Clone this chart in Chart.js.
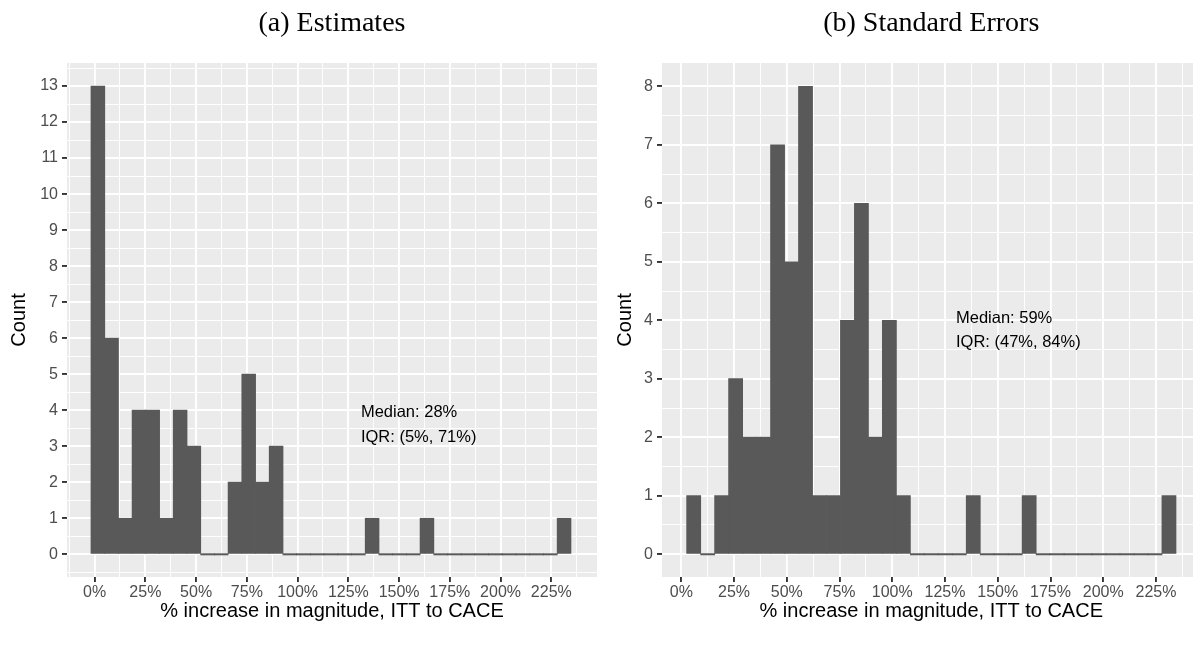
<!DOCTYPE html>
<html>
<head>
<meta charset="utf-8">
<script src="https://cdn.jsdelivr.net/npm/chart.js@4.4.1/dist/chart.umd.min.js"></script>
<style>
  html, body { margin: 0; padding: 0; background: #fff; overflow: hidden; }
  #wrap { position: relative; width: 1193px; height: 652px; overflow: hidden; }
  canvas { position: absolute; top: 0; }
  #estChart { left: 0; }
  #seChart { left: 600px; }
</style>
</head>
<body>
<div id="wrap">
  <canvas id="estChart" width="600" height="652"></canvas>
  <canvas id="seChart" width="601" height="652"></canvas>
</div>
<script>
// histogram bins (centre, % increase) and counts
const estBins = [1.61, 8.36, 15.12, 21.87, 28.63, 35.38, 42.14, 48.89, 55.65, 62.40, 69.16, 75.91, 82.67, 89.42, 96.18, 102.93, 109.69, 116.44, 123.20, 129.95, 136.71, 143.46, 150.22, 156.97, 163.73, 170.48, 177.24, 183.99, 190.75, 197.50, 204.26, 211.01, 217.77, 224.52, 231.28];
const estCounts = [13, 6, 1, 4, 4, 1, 4, 3, 0, 0, 2, 5, 2, 3, 0, 0, 0, 0, 0, 0, 1, 0, 0, 0, 1, 0, 0, 0, 0, 0, 0, 0, 0, 0, 1];

const seBins = [5.87, 12.50, 19.12, 25.75, 32.37, 39.00, 45.63, 52.25, 58.88, 65.50, 72.13, 78.76, 85.38, 92.01, 98.63, 105.26, 111.89, 118.51, 125.14, 131.76, 138.39, 145.02, 151.64, 158.27, 164.89, 171.52, 178.15, 184.77, 191.40, 198.02, 204.65, 211.28, 217.90, 224.53, 231.15];
const seCounts = [1, 0, 1, 3, 2, 2, 7, 5, 8, 1, 1, 4, 6, 2, 4, 1, 0, 0, 0, 0, 1, 0, 0, 0, 1, 0, 0, 0, 0, 0, 0, 0, 0, 0, 1];

// tick labels
const xTicks = [0, 25, 50, 75, 100, 125, 150, 175, 200, 225];
const estYTicks = [0, 1, 2, 3, 4, 5, 6, 7, 8, 9, 10, 11, 12, 13];
const seYTicks = [0, 1, 2, 3, 4, 5, 6, 7, 8];

const estNote = ["Median: 28%", "IQR: (5%, 71%)"];
const seNote = ["Median: 59%", "IQR: (47%, 84%)"];

const SANS = "'Liberation Sans', Arial, Helvetica, sans-serif";
const SERIF = "'Liberation Serif', 'Times New Roman', serif";

// major + minor (half way) ticks, like ggplot
function withMinor(major, min, max) {
  const step = major[1] - major[0];
  const out = [];
  major.forEach((v) => out.push(v - step / 2, v));
  out.push(major[major.length - 1] + step / 2);
  return out.filter((v) => v >= min && v <= max).map((v) => ({ value: v }));
}

const panelBg = {
  id: "panelBg",
  beforeDraw(chart) {
    const { ctx, chartArea: { left, top, width, height } } = chart;
    ctx.save();
    ctx.fillStyle = "#EBEBEB";
    ctx.fillRect(left, top, width, height);
    ctx.restore();
  },
};

const noteText = {
  id: "noteText",
  afterDatasetsDraw(chart, args, opts) {
    const { ctx, scales: { x, y } } = chart;
    ctx.save();
    ctx.font = "16.5px " + SANS;
    ctx.fillStyle = "#000";
    ctx.textAlign = "left";
    ctx.textBaseline = "alphabetic";
    const px = x.getPixelForValue(opts.x);
    const py = y.getPixelForValue(opts.y);
    opts.lines.forEach((t, i) => ctx.fillText(t, px, py + i * opts.gap));
    ctx.restore();
  },
};

function makeChart(id, cfg) {
  const xMajor = new Set(xTicks);
  const yMajor = new Set(cfg.yTicks);
  return new Chart(document.getElementById(id), {
    type: "bar",
    data: {
      datasets: [
        {
          data: cfg.bins.map((b, i) => ({ x: b, y: cfg.counts[i] })),
          backgroundColor: "#595959",
          borderWidth: 0,
          inflateAmount: 0.4,
          barPercentage: 1,
          categoryPercentage: 1,
          minBarLength: 1.2,
        },
      ],
    },
    options: {
      responsive: false,
      animation: false,
      devicePixelRatio: 1,
      layout: { padding: { left: 0, right: cfg.padRight, top: 0, bottom: 0 } },
      scales: {
        x: {
          type: "linear",
          min: cfg.xMin,
          max: cfg.xMax,
          offset: false,
          afterBuildTicks: (axis) => { axis.ticks = withMinor(xTicks, cfg.xMin, cfg.xMax); },
          afterFit: (axis) => { axis.height = 75; },
          grid: {
            offset: false,
            color: "#FFFFFF",
            lineWidth: (c) => (c.tick && xMajor.has(c.tick.value) ? 1.9 : 0.95),
            tickLength: 5,
            tickWidth: 1.9,
            tickColor: (c) => (c.tick && xMajor.has(c.tick.value) ? "#333333" : "rgba(0,0,0,0)"),
          },
          border: { display: false },
          ticks: {
            autoSkip: false,
            maxRotation: 0,
            minRotation: 0,
            padding: 1,
            color: "#4D4D4D",
            font: { family: SANS, size: 16 },
            callback: (v) => (xMajor.has(v) ? v + "%" : ""),
          },
          title: {
            display: true,
            text: "% increase in magnitude, ITT to CACE",
            color: "#000",
            font: { family: SANS, size: 20 },
            padding: { top: 0, bottom: 29 },
          },
        },
        y: {
          type: "linear",
          min: cfg.yMin,
          max: cfg.yMax,
          afterBuildTicks: (axis) => { axis.ticks = withMinor(cfg.yTicks, cfg.yMin, cfg.yMax); },
          afterFit: (axis) => { axis.width = cfg.yWidth; },
          grid: {
            color: "#FFFFFF",
            lineWidth: (c) => (c.tick && yMajor.has(c.tick.value) ? 1.9 : 0.95),
            tickLength: 5,
            tickWidth: 1.9,
            tickColor: (c) => (c.tick && yMajor.has(c.tick.value) ? "#333333" : "rgba(0,0,0,0)"),
          },
          border: { display: false },
          ticks: {
            autoSkip: false,
            padding: 4,
            color: "#4D4D4D",
            font: { family: SANS, size: 16 },
            callback: (v) => (yMajor.has(v) ? String(v) : ""),
          },
          title: {
            display: true,
            text: "Count",
            color: "#000",
            font: { family: SANS, size: 20 },
            padding: { top: cfg.yTitlePad, bottom: 0 },
          },
        },
      },
      plugins: {
        legend: { display: false },
        tooltip: { enabled: false },
        title: {
          display: true,
          text: cfg.title,
          fullSize: false,
          color: "#000",
          font: { family: SERIF, size: 28, weight: "normal" },
          padding: { top: 7, bottom: 22.4 },
        },
        noteText: cfg.note,
      },
    },
    plugins: [panelBg, noteText],
  });
}

// (a) Estimates
makeChart("estChart", {
  title: "(a) Estimates",
  bins: estBins,
  counts: estCounts,
  yTicks: estYTicks,
  xMin: -13.6,
  xMax: 247.5,
  yMin: -0.63,
  yMax: 13.64,
  yWidth: 67,
  yTitlePad: 7,
  padRight: 3,
  note: { x: 131.2, y: 3.82, gap: 25, lines: estNote },
});

// (b) Standard Errors
makeChart("seChart", {
  title: "(b) Standard Errors",
  bins: seBins,
  counts: seCounts,
  yTicks: seYTicks,
  xMin: -9.15,
  xMax: 246.1,
  yMin: -0.39,
  yMax: 8.4,
  yWidth: 62,
  yTitlePad: 13,
  padRight: 0.5,
  note: { x: 130.2, y: 3.96, gap: 24.6, lines: seNote },
});
</script>
</body>
</html>
